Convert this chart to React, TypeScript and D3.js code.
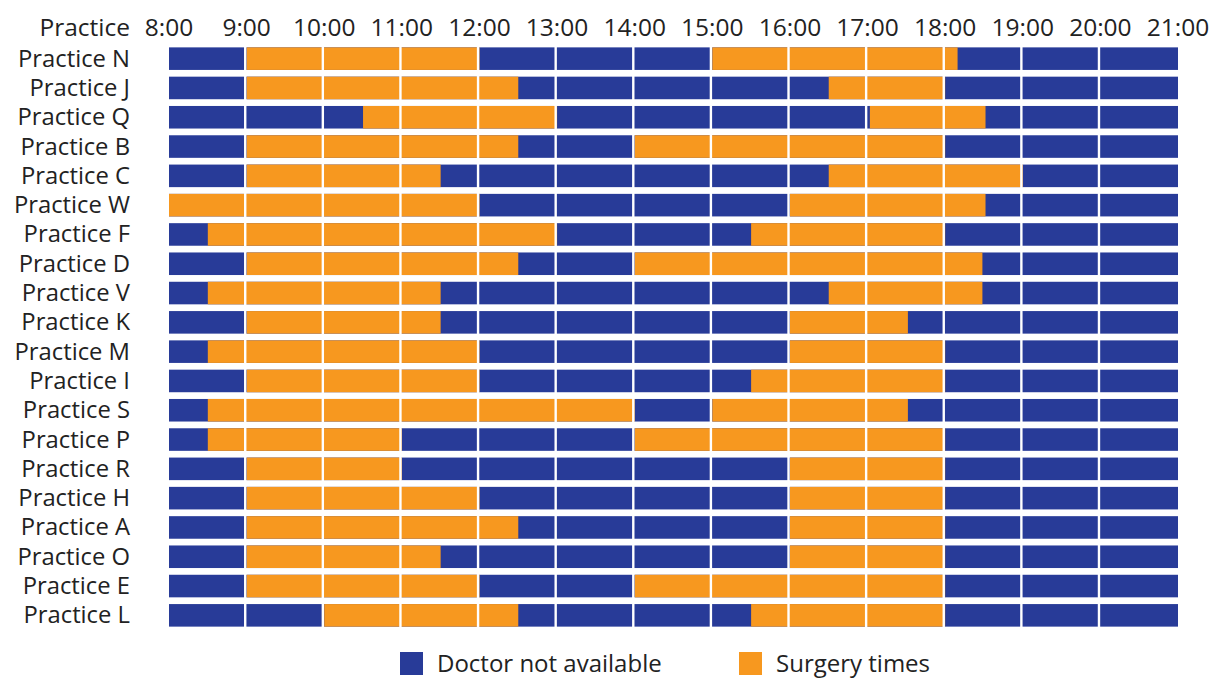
import React, { useEffect, useRef } from "react";
import * as d3 from "d3";

const practices = ["N", "J", "Q", "B", "C", "W", "F", "D", "V", "K", "M", "I", "S", "P", "R", "H", "A", "O", "E", "L"];
const morningStart = [9, 9, 10.5, 9, 9, 8, 8.5, 9, 8.5, 9, 8.5, 9, 8.5, 8.5, 9, 9, 9, 9, 9, 10];
const morningEnd = [12, 12.5, 13, 12.5, 11.5, 12, 13, 12.5, 11.5, 11.5, 12, 12, 14, 11, 11, 12, 12.5, 11.5, 12, 12.5];
const afternoonStart = [15, 16.5, 17.03, 14, 16.5, 16, 15.5, 14, 16.5, 16, 16, 15.5, 15, 14, 16, 16, 16, 16, 14, 15.5];
const afternoonEnd = [18.16, 18, 18.52, 18, 19, 18.52, 18, 18.48, 18.48, 17.52, 18, 18, 17.52, 18, 18, 18, 18, 18, 18, 18];
const hourTicks = [8, 9, 10, 11, 12, 13, 14, 15, 16, 17, 18, 19, 20, 21];
const legendItems = ["Doctor not available", "Surgery times"];

const BLUE = "#283b98";
const ORANGE = "#f7981f";
const FONT = "'Open Sans', 'Noto Sans', sans-serif";

export default function App() {
  const ref = useRef<SVGSVGElement>(null);

  useEffect(() => {
    const svg = d3.select(ref.current);
    svg.selectAll("*").remove();

    const x = d3.scaleLinear().domain([8, 21]).range([169, 1178]);
    const y = d3
      .scaleBand<string>()
      .domain(practices)
      .range([44, 630])
      .paddingInner(0.23)
      .paddingOuter(0.115);

    // header
    svg
      .append("text")
      .attr("x", 130)
      .attr("y", 36)
      .attr("text-anchor", "end")
      .attr("font-family", FONT)
      .attr("font-size", 24.5)
      .attr("fill", "#222")
      .text("Practice");

    svg
      .append("g")
      .selectAll("text")
      .data(hourTicks)
      .join("text")
      .attr("x", (d) => x(d))
      .attr("y", 36)
      .attr("text-anchor", "middle")
      .attr("font-family", FONT)
      .attr("font-size", 24.5)
      .attr("fill", "#222")
      .text((d) => `${d}:00`);

    // row labels
    svg
      .append("g")
      .selectAll("text")
      .data(practices)
      .join("text")
      .attr("x", 130)
      .attr("y", (d) => (y(d) as number) + y.bandwidth() / 2 + 8)
      .attr("text-anchor", "end")
      .attr("font-family", FONT)
      .attr("font-size", 23.8)
      .attr("fill", "#222")
      .text((d) => `Practice ${d}`);

    // background (doctor not available)
    svg
      .append("g")
      .selectAll("rect")
      .data(practices)
      .join("rect")
      .attr("x", x(8))
      .attr("width", x(21) - x(8))
      .attr("y", (d) => y(d) as number)
      .attr("height", y.bandwidth())
      .attr("fill", BLUE);

    // surgery intervals
    const segs: { p: string; s: number; e: number }[] = [];
    practices.forEach((p, i) => {
      segs.push({ p, s: morningStart[i], e: morningEnd[i] });
      segs.push({ p, s: afternoonStart[i], e: afternoonEnd[i] });
    });
    svg
      .append("g")
      .selectAll("rect")
      .data(segs)
      .join("rect")
      .attr("x", (d) => x(d.s))
      .attr("width", (d) => x(d.e) - x(d.s))
      .attr("y", (d) => y(d.p) as number)
      .attr("height", y.bandwidth())
      .attr("fill", ORANGE);

    // white hour separators
    svg
      .append("g")
      .selectAll("line")
      .data(hourTicks.slice(1, -1))
      .join("line")
      .attr("x1", (d) => x(d) - 1.4)
      .attr("x2", (d) => x(d) - 1.4)
      .attr("y1", 44)
      .attr("y2", 630)
      .attr("stroke", "#fff")
      .attr("stroke-width", 2.4);

    // legend
    const legendX = [400, 739];
    const legendColors = [BLUE, ORANGE];
    const lg = svg
      .append("g")
      .selectAll("g")
      .data(legendItems)
      .join("g")
      .attr("transform", (_d, i) => `translate(${legendX[i]},652)`);
    lg.append("rect")
      .attr("width", 23)
      .attr("height", 23)
      .attr("fill", (_d, i) => legendColors[i]);
    lg.append("text")
      .attr("x", 37)
      .attr("y", 20)
      .attr("font-family", FONT)
      .attr("font-size", 24)
      .attr("fill", "#222")
      .text((d) => d);
  }, []);

  return (
    <svg
      ref={ref}
      width={1212}
      height={678}
      style={{ position: "absolute", left: 0, top: 0, background: "#fff" }}
    />
  );
}
